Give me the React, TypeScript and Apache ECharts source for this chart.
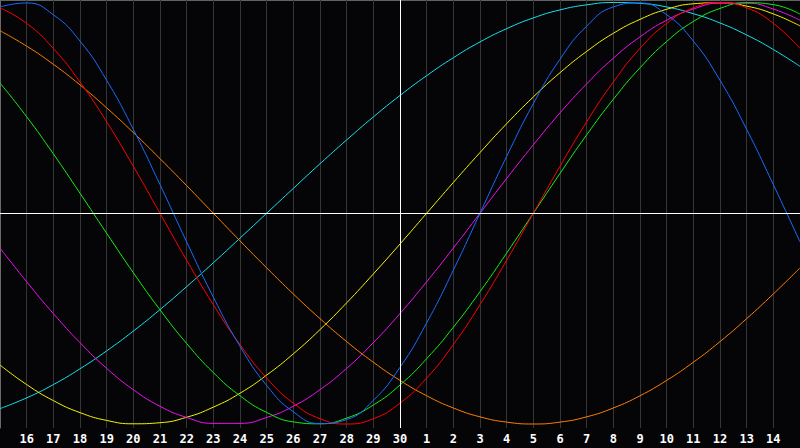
import React, { useEffect, useRef } from "react";
import * as echarts from "echarts";

// Day labels along the x axis (index 0 = left edge, index 15 = today line)
const dayLabels = [
  "15", "16", "17", "18", "19", "20", "21", "22", "23", "24", "25", "26", "27", "28", "29", "30",
  "1", "2", "3", "4", "5", "6", "7", "8", "9", "10", "11", "12", "13", "14", "15",
];

// Biorhythm cycles, values in percent, one per day
const physical = [97.9, 99.8, 94.2, 81.7, 63.1, 39.8, 13.6, -13.6, -39.8, -63.1, -81.7, -94.2, -99.8, -97.9, -88.8, -73.1, -52.0, -27.0, 0, 27.0, 52.0, 73.1, 88.8, 97.9, 99.8, 94.2, 81.7, 63.1, 39.8, 13.6, -13.6];
const emotional = [97.5, 90.1, 78.2, 62.3, 43.4, 22.3, 0, -22.3, -43.4, -62.3, -78.2, -90.1, -97.5, -100, -97.5, -90.1, -78.2, -62.3, -43.4, -22.3, 0, 22.3, 43.4, 62.3, 78.2, 90.1, 97.5, 100, 97.5, 90.1, 78.2];
const intellectual = [61.8, 45.8, 28.2, 9.5, -9.5, -28.2, -45.8, -61.8, -75.6, -86.6, -94.5, -99.0, -99.9, -97.2, -91.0, -81.5, -69.0, -54.1, -37.2, -18.9, 0, 18.9, 37.2, 54.1, 69.0, 81.5, 91.0, 97.2, 99.9, 99.0, 94.5];
const intuitive = [-16.5, -32.5, -47.6, -61.4, -73.6, -83.7, -91.6, -96.9, -99.7, -99.7, -96.9, -91.6, -83.7, -73.6, -61.4, -47.6, -32.5, -16.5, 0, 16.5, 32.5, 47.6, 61.4, 73.6, 83.7, 91.6, 96.9, 99.7, 99.7, 96.9, 91.6];
const aesthetic = [-72.0, -81.3, -88.9, -94.6, -98.3, -99.9, -99.4, -96.8, -92.0, -85.4, -76.8, -66.7, -55.2, -42.5, -28.8, -14.6, 0, 14.6, 28.8, 42.5, 55.2, 66.7, 76.8, 85.4, 92.0, 96.8, 99.4, 99.9, 98.3, 94.6, 88.9];
const awareness = [86.6, 79.3, 70.7, 60.9, 50.0, 38.3, 25.9, 13.1, 0, -13.1, -25.9, -38.3, -50.0, -60.9, -70.7, -79.3, -86.6, -92.4, -96.6, -99.1, -100, -99.1, -96.6, -92.4, -86.6, -79.3, -70.7, -60.9, -50.0, -38.3, -25.9];
const spiritual = [-92.7, -87.6, -81.3, -73.8, -65.3, -55.9, -45.7, -34.8, -23.5, -11.8, 0, 11.8, 23.5, 34.8, 45.7, 55.9, 65.3, 73.8, 81.3, 87.6, 92.7, 96.5, 98.9, 100.0, 99.6, 97.9, 94.7, 90.3, 84.6, 77.7, 69.7];

const todayIndex = 15;

const seriesDefs = [
  { name: "Spiritual", values: spiritual, color: "#12e4ee" },
  { name: "Awareness", values: awareness, color: "#ff7f00" },
  { name: "Aesthetic", values: aesthetic, color: "#f4f400" },
  { name: "Intuitive", values: intuitive, color: "#f010f0" },
  { name: "Intellectual", values: intellectual, color: "#12ee12" },
  { name: "Emotional", values: emotional, color: "#ff0000" },
  { name: "Physical", values: physical, color: "#1a6cff" },
];

export default function App() {
  const ref = useRef<HTMLDivElement>(null);

  useEffect(() => {
    document.body.style.margin = "0";
    document.body.style.background = "#050508";
    if (!ref.current) return;
    const chart = echarts.init(ref.current, undefined, { renderer: "svg" });

    const series: any[] = seriesDefs.map((s) => ({
      name: s.name,
      type: "line",
      data: s.values.map((v, i) => [i, v]),
      smooth: 0.5,
      symbol: "none",
      lineStyle: { color: s.color, width: 1 },
      emphasis: { disabled: true },
      silent: true,
    }));

    series.push({
      name: "guides",
      type: "line",
      data: [],
      silent: true,
      markLine: {
        silent: true,
        symbol: "none",
        label: { show: false },
        lineStyle: { color: "#ffffff", type: "solid", width: 1 },
        emphasis: { disabled: true },
        data: [{ xAxis: todayIndex }, { yAxis: 0 }],
      },
    });

    chart.setOption({
      animation: false,
      backgroundColor: "#050508",
      grid: { left: 0, right: 0, top: 0, bottom: 20, containLabel: false },
      graphic: [
        {
          type: "line",
          shape: { x1: 0, y1: 0.5, x2: 800, y2: 0.5 },
          style: { stroke: "#5f665f", lineWidth: 1 },
          silent: true,
        },
      ],
      xAxis: {
        type: "value",
        min: 0,
        max: dayLabels.length - 1,
        interval: 1,
        axisLine: { show: true, lineStyle: { color: "#8a8a8a", width: 1 } },
        axisTick: { show: false },
        splitLine: { show: true, lineStyle: { color: "#363636", width: 1 } },
        axisLabel: {
          show: true,
          showMinLabel: false,
          showMaxLabel: false,
          color: "#ffffff",
          fontFamily: "DejaVu Sans Mono",
          fontWeight: "bold",
          fontSize: 12,
          margin: 5,
          formatter: (v: number) => dayLabels[Math.round(v)] ?? "",
        },
      },
      yAxis: {
        type: "value",
        min: -101.9,
        max: 101.2,
        axisLine: { show: true, onZero: false, lineStyle: { color: "#6a6a6a", width: 1 } },
        axisTick: { show: false },
        axisLabel: { show: false },
        splitLine: { show: false },
      },
      series,
    });

    return () => chart.dispose();
  }, []);

  return (
    <div
      ref={ref}
      style={{ position: "absolute", left: 0, top: 0, width: 800, height: 448 }}
    />
  );
}
